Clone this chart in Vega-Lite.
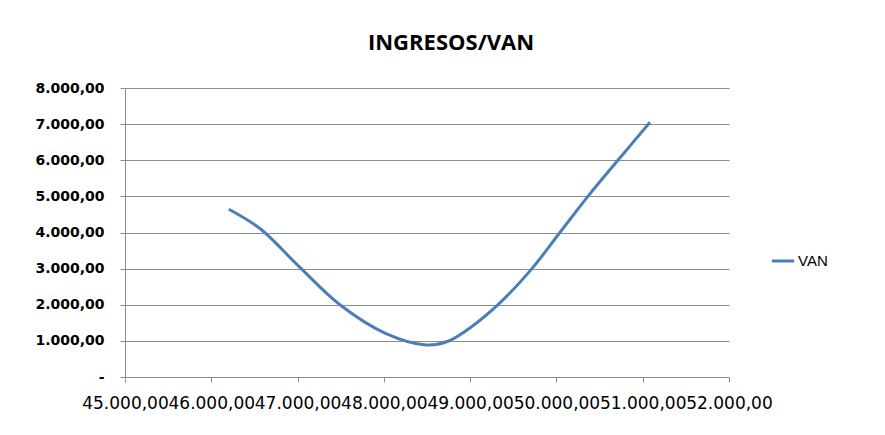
{
  "$schema": "https://vega.github.io/schema/vega-lite/v6.json",
  "width": 604,
  "height": 289,
  "autosize": {"type": "none"},
  "padding": {"left": 125, "top": 88, "right": 156, "bottom": 58},
  "background": "white",
  "title": {
    "text": "INGRESOS/VAN",
    "font": "Open Sans",
    "fontSize": 22,
    "fontWeight": "bold",
    "color": "#000000",
    "anchor": "middle",
    "dx": 24,
    "offset": 26
  },
  "config": {
    "locale": {"number": {"decimal": ",", "thousands": ".", "grouping": [3], "currency": ["", ""]}},
    "view": {"stroke": null},
    "axis": {"domainColor": "#8c8c8c", "tickColor": "#8c8c8c", "gridColor": "#8c8c8c", "labelColor": "#000000"}
  },
  "data": {
    "values": [
      {"ingresos": 46203, "van": 4645, "serie": "VAN"},
      {"ingresos": 46564, "van": 4110, "serie": "VAN"},
      {"ingresos": 47018, "van": 3056, "serie": "VAN"},
      {"ingresos": 47491, "van": 2000, "serie": "VAN"},
      {"ingresos": 48019, "van": 1209, "serie": "VAN"},
      {"ingresos": 48488, "van": 888, "serie": "VAN"},
      {"ingresos": 48743, "van": 990, "serie": "VAN"},
      {"ingresos": 49021, "van": 1400, "serie": "VAN"},
      {"ingresos": 49345, "van": 2050, "serie": "VAN"},
      {"ingresos": 49716, "van": 3000, "serie": "VAN"},
      {"ingresos": 50040, "van": 4000, "serie": "VAN"},
      {"ingresos": 50365, "van": 5000, "serie": "VAN"},
      {"ingresos": 50713, "van": 6000, "serie": "VAN"},
      {"ingresos": 51084, "van": 7050, "serie": "VAN"}
    ]
  },
  "mark": {"type": "line", "interpolate": "catmull-rom", "strokeWidth": 3},
  "encoding": {
    "x": {
      "field": "ingresos",
      "type": "quantitative",
      "scale": {"domain": [45000, 52000], "nice": false, "zero": false},
      "axis": {
        "title": null,
        "values": [45000, 46000, 47000, 48000, 49000, 50000, 51000, 52000],
        "format": ",.2f",
        "grid": false,
        "tickSize": 5,
        "labelPadding": 13,
        "labelFont": "DejaVu Sans",
        "labelFontSize": 17,
        "labelOverlap": false,
        "labelFlush": false
      }
    },
    "y": {
      "field": "van",
      "type": "quantitative",
      "scale": {"domain": [0, 8000], "nice": false},
      "axis": {
        "title": null,
        "values": [0, 1000, 2000, 3000, 4000, 5000, 6000, 7000, 8000],
        "format": ",.2f",
        "labelExpr": "datum.value == 0 ? '-' : datum.label",
        "tickSize": 5,
        "labelPadding": 16,
        "labelFont": "DejaVu Sans",
        "labelFontWeight": 600,
        "labelFontSize": 14,
        "grid": true,
        "gridWidth": 1
      }
    },
    "color": {
      "field": "serie",
      "type": "nominal",
      "scale": {"range": ["#4a7ebb"]},
      "legend": {
        "title": null,
        "orient": "none",
        "legendX": 645,
        "legendY": 160,
        "symbolType": "stroke",
        "symbolSize": 500,
        "symbolStrokeWidth": 3,
        "labelFont": "Liberation Sans",
        "labelFontSize": 15,
        "labelColor": "#000000",
        "labelOffset": 2
      }
    }
  }
}
